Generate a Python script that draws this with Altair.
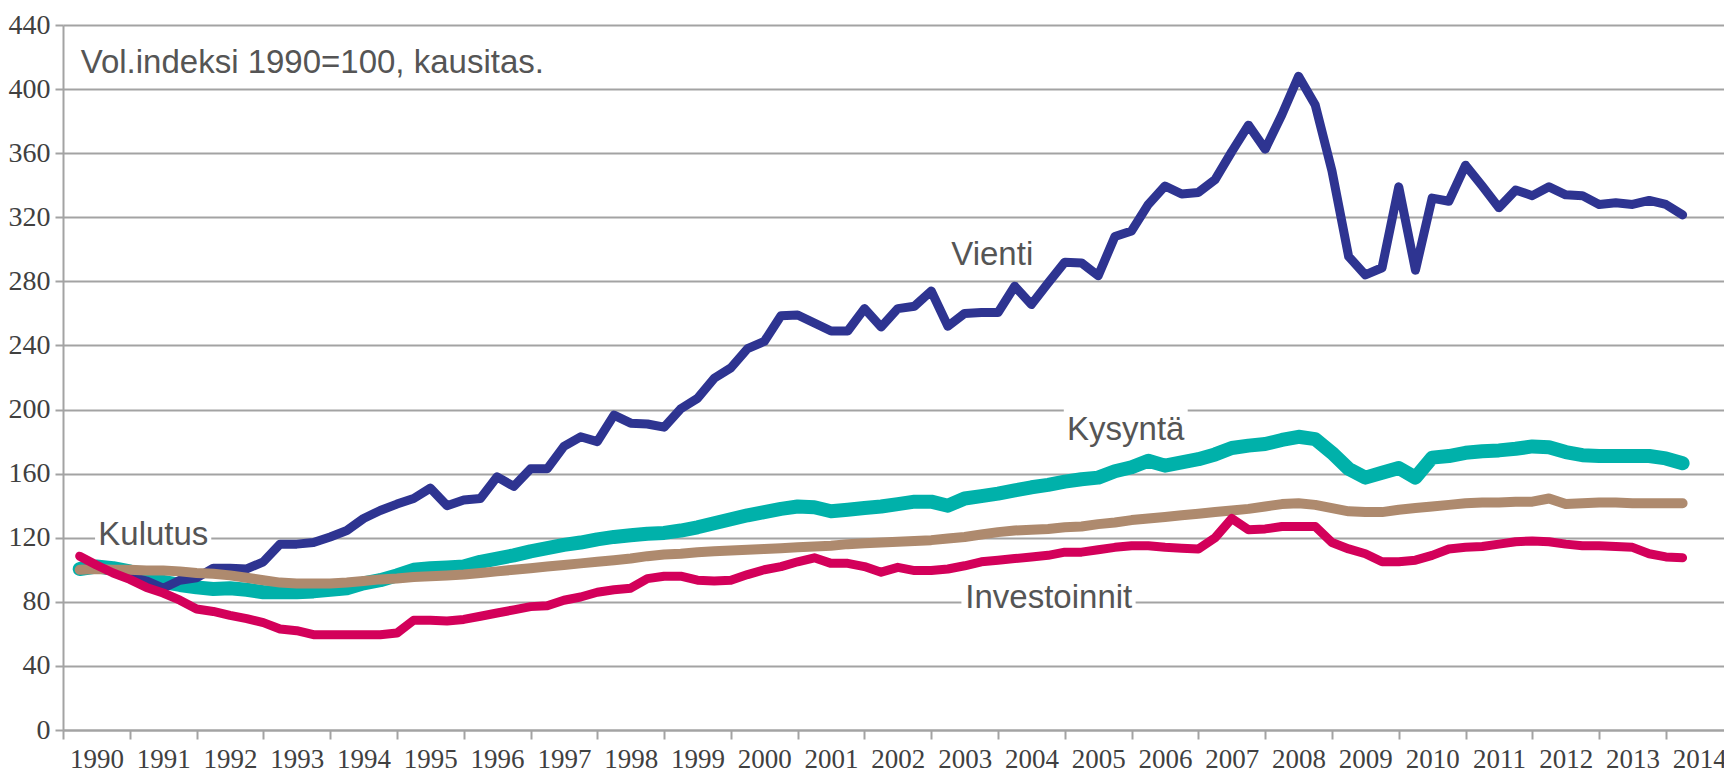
import altair as alt
import pandas as pd

# ---- data: quarterly volume indices, 1990Q1 .. 2014Q1 ----
periods = pd.period_range("1990Q1", "2014Q1", freq="Q")

vienti = [100, 101, 99, 96, 93, 88.5, 93.5, 95, 101, 101,
          100.5, 105, 116, 116, 117, 120.5, 124.5, 132, 137, 141,
          144.5, 151, 140, 143.5, 144.5, 158, 152, 163, 163, 177,
          183, 180, 196.5, 191.5, 191, 189, 200.5, 207, 219.5, 226,
          238, 242.5, 258.5, 259, 254, 249, 249, 263, 251.5, 263,
          264.5, 274, 252, 260, 260.5, 260.5, 277, 265.5, 279, 292,
          291.5, 283.5, 308, 311.5, 328, 339.5, 334.5, 335.5, 343.5, 361,
          377.5, 362.5, 384, 408, 390, 349, 295.5, 284, 288.5, 339,
          287, 332, 330, 352.5, 339.5, 326, 337, 333.5, 339, 334,
          333.5, 328, 329, 328, 330.5, 328, 321.5]

kysynta = [100.5, 102, 101, 99, 94.5, 92.5, 90.5, 89, 88, 88.5,
           87.5, 86, 86, 86, 86.5, 87.5, 88.5, 91.5, 93.5, 96.5,
           100, 101, 101.5, 102, 105, 107, 109, 111.5, 113.5, 115.5,
           117, 119, 120.5, 121.5, 122.5, 123, 124.5, 126.5, 129, 131.5,
           134, 136, 138, 139.5, 139, 136.5, 137.5, 138.5, 139.5, 141,
           142.5, 142.5, 140, 144.5, 146, 147.5, 149.5, 151.5, 153, 155,
           156.5, 157.5, 161.5, 164, 168, 165, 167, 169, 172, 176,
           177.5, 178.5, 181, 183, 181.5, 173, 163, 157.5, 160.5, 163.5,
           157.5, 170, 171, 173, 174, 174.5, 175.5, 177, 176.5, 173.5,
           171.5, 171, 171, 171, 171, 169.5, 166.5]

kulutus = [100, 100.5, 100, 100, 99.5, 99.5, 99, 98, 97.5, 96.5,
           95, 93.5, 92, 91.5, 91.5, 91.5, 92, 93, 94, 94.5,
           95.5, 96, 96.5, 97, 98, 99, 100, 101, 102, 103,
           104, 105, 106, 107, 108.5, 109.5, 110, 111, 111.5, 112,
           112.5, 113, 113.5, 114, 114.5, 115, 116, 116.5, 117, 117.5,
           118, 118.5, 119.5, 120.5, 122, 123.5, 124.5, 125, 125.5, 126.5,
           127, 128.5, 129.5, 131, 132, 133, 134, 135, 136, 137,
           138, 139.5, 141, 141.5, 140.5, 138.5, 136.5, 136, 136, 137.5,
           138.5, 139.5, 140.5, 141.5, 142, 142, 142.5, 142.5, 144.5, 141,
           141.5, 142, 142, 141.5, 141.5, 141.5, 141.5]

investoinnit = [108.5, 103, 98, 94, 89, 85.5, 81, 75.5, 74, 71.5,
                69.5, 67, 63, 62, 59.5, 59.5, 59.5, 59.5, 59.5, 60.5,
                68.5, 68.5, 68, 69, 71, 73, 75, 77, 77.5, 81,
                83, 86, 87.5, 88.5, 94.5, 96, 96, 93.5, 93, 93.5,
                97, 100, 102, 105, 107.5, 104, 104, 102, 98.5, 101.5,
                99.5, 99.5, 100.5, 102.5, 105, 106, 107, 108, 109, 111,
                111, 112.5, 114, 115, 115, 114, 113.5, 113, 120, 132,
                125, 125.5, 127, 127, 127, 117, 113, 110, 105, 105,
                106, 109, 113, 114, 114.5, 116, 117.5, 118, 117.5, 116,
                115, 115, 114.5, 114, 110, 108, 107.5]

year_ticks = list(range(1990, 2015))
y_ticks = list(range(0, 441, 40))

series = {
    "Kysyntä": (kysynta, "#00B1AA", 14),
    "Vienti": (vienti, "#2E3491", 9),
    "Kulutus": (kulutus, "#AE8A6E", 10),
    "Investoinnit": (investoinnit, "#D3005A", 9),
}

rows = []
for name, (vals, _, _) in series.items():
    for p, v in zip(periods, vals):
        rows.append({"series": name, "t": p.year + p.quarter / 4.0, "value": v})
df = pd.DataFrame(rows)

# annotation placements (data coordinates)
labels = pd.DataFrame([
    {"text": "Vol.indeksi 1990=100, kausitas.", "x": 1990.265, "y": 409.8},
    {"text": "Vienti", "x": 2003.30, "y": 290.2},
    {"text": "Kysyntä", "x": 2005.034, "y": 181.0},
    {"text": "Kulutus", "x": 1990.528, "y": 115.5},
    {"text": "Investoinnit", "x": 2003.51, "y": 75.95},
])
boxes = pd.DataFrame([
    {"x1": 2004.985, "x2": 2006.84, "y1": 197.3, "y2": 202.7},
    {"x1": 1990.48, "x2": 1992.22, "y1": 117.3, "y2": 122.7},
    {"x1": 2003.452, "x2": 2006.06, "y1": 77.3, "y2": 82.7},
])

GRID = "#A3A3A3"
xscale = alt.Scale(domain=[1990, 2014.87], nice=False, zero=False)
yscale = alt.Scale(domain=[0, 440], nice=False)

xaxis = alt.Axis(values=year_ticks, format="d", title=None, grid=False,
                 labelOffset=33.4, tickSize=9, tickWidth=2, tickColor=GRID,
                 domainColor=GRID, domainWidth=2, labelFlush=False,
                 labelOverlap=False, labelFont="Liberation Serif",
                 labelFontSize=27, labelColor="#404040",
                 labelBaseline="alphabetic", labelPadding=28)
yaxis = alt.Axis(values=y_ticks, title=None, grid=True, gridColor=GRID,
                 gridWidth=2, tickSize=8, tickWidth=2, tickColor=GRID,
                 domainColor=GRID, domainWidth=2, labelFont="Liberation Serif",
                 labelFontSize=28, labelColor="#404040", labelPadding=5)

box_layer = alt.Chart(boxes).mark_rect(color="white").encode(
    x=alt.X("x1:Q", scale=xscale, axis=xaxis),
    x2="x2:Q",
    y=alt.Y("y1:Q", scale=yscale, axis=yaxis),
    y2="y2:Q",
)

line_layers = []
for name, (_, color, width) in series.items():
    line_layers.append(
        alt.Chart(df).transform_filter(alt.datum.series == name)
        .mark_line(color=color, strokeWidth=width, strokeCap="round",
                   strokeJoin="round")
        .encode(x=alt.X("t:Q", scale=xscale), y=alt.Y("value:Q", scale=yscale))
    )

text_layer = alt.Chart(labels).mark_text(
    align="left", baseline="alphabetic",
    font="Liberation Sans, Arial, sans-serif",
    fontSize=33, color="#555555",
).encode(x=alt.X("x:Q", scale=xscale), y=alt.Y("y:Q", scale=yscale), text="text:N")

chart = alt.layer(box_layer, *line_layers, text_layer).properties(
    width=1661, height=705,
    padding={"left": 63, "top": 25, "right": 0, "bottom": 42},
    autosize=alt.AutoSizeParams(type="none"),
    background="white",
).configure_view(stroke=None)

chart.save("out.html", embed_options={"renderer": "svg", "actions": False})
